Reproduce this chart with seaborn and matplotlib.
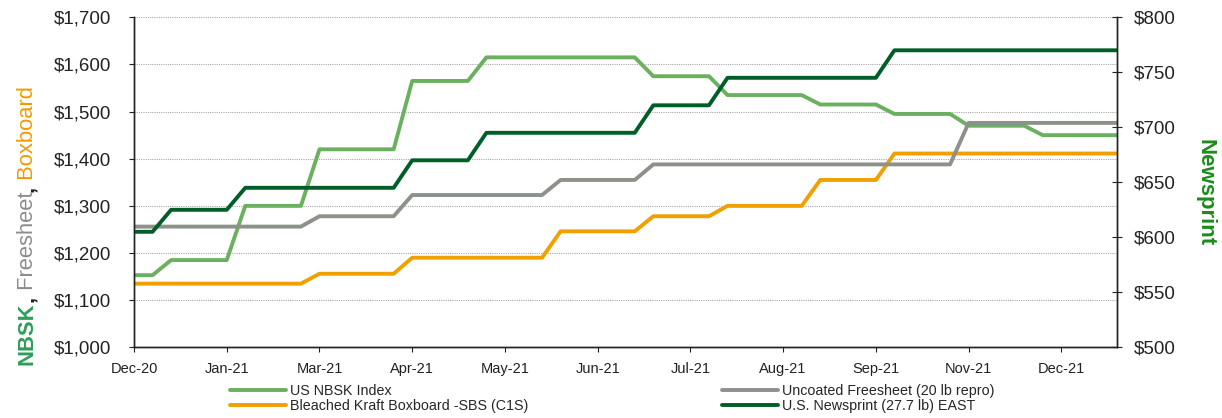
import numpy as np
import pandas as pd
import matplotlib.pyplot as plt
import matplotlib.ticker as ticker
import seaborn as sns

# ------------------------------------------------------------
# data: weekly prices, Dec-20 .. Dec-21 (54 points)
# ------------------------------------------------------------
TICK_LABELS = ["Dec-20", "Jan-21", "Mar-21", "Apr-21", "May-21", "Jun-21",
               "Jul-21", "Aug-21", "Sep-21", "Nov-21", "Dec-21"]

NBSK = [1153, 1153, 1185, 1185, 1185, 1185, 1300, 1300, 1300, 1300,
        1420, 1420, 1420, 1420, 1420, 1565, 1565, 1565, 1565, 1615,
        1615, 1615, 1615, 1615, 1615, 1615, 1615, 1615, 1575, 1575,
        1575, 1575, 1535, 1535, 1535, 1535, 1535, 1515, 1515, 1515,
        1515, 1495, 1495, 1495, 1495, 1470, 1470, 1470, 1470, 1450,
        1450, 1450, 1450, 1450]

FREESHEET = [1256, 1256, 1256, 1256, 1256, 1256, 1256, 1256, 1256, 1256,
             1278, 1278, 1278, 1278, 1278, 1323, 1323, 1323, 1323, 1323,
             1323, 1323, 1323, 1355, 1355, 1355, 1355, 1355, 1388, 1388,
             1388, 1388, 1388, 1388, 1388, 1388, 1388, 1388, 1388, 1388,
             1388, 1388, 1388, 1388, 1388, 1476, 1476, 1476, 1476, 1476,
             1476, 1476, 1476, 1476]

BOXBOARD = [1135, 1135, 1135, 1135, 1135, 1135, 1135, 1135, 1135, 1135,
            1156, 1156, 1156, 1156, 1156, 1190, 1190, 1190, 1190, 1190,
            1190, 1190, 1190, 1246, 1246, 1246, 1246, 1246, 1278, 1278,
            1278, 1278, 1300, 1300, 1300, 1300, 1300, 1355, 1355, 1355,
            1355, 1411, 1411, 1411, 1411, 1411, 1411, 1411, 1411, 1411,
            1411, 1411, 1411, 1411]

NEWSPRINT = [605, 605, 625, 625, 625, 625, 645, 645, 645, 645,
             645, 645, 645, 645, 645, 670, 670, 670, 670, 695,
             695, 695, 695, 695, 695, 695, 695, 695, 720, 720,
             720, 720, 745, 745, 745, 745, 745, 745, 745, 745,
             745, 770, 770, 770, 770, 770, 770, 770, 770, 770,
             770, 770, 770, 770]

C_NBSK = "#6BB05F"
C_FREE = "#8C918A"
C_BOX = "#F0A000"
C_NEWS = "#005F28"

W, H = 1222, 418
sns.set_style("white")
plt.rcParams.update({
    "font.family": ["Liberation Sans", "DejaVu Sans"],
    "axes.edgecolor": "#222222",
    "xtick.color": "#222222",
    "ytick.color": "#222222",
})

df = pd.DataFrame({"idx": np.arange(len(NBSK)), "nbsk": NBSK,
                   "free": FREESHEET, "box": BOXBOARD, "news": NEWSPRINT})

fig = plt.figure(figsize=(W / 100, H / 100), dpi=100)
ax = fig.add_axes([134 / W, 1 - 347.3 / H, (1117 - 134) / W, 330 / H])
ax2 = ax.twinx()

LW = 2.8
sns.lineplot(data=df, x="idx", y="nbsk", ax=ax, color=C_NBSK, lw=LW, label="US NBSK Index", legend=False)
sns.lineplot(data=df, x="idx", y="box", ax=ax, color=C_BOX, lw=LW, label="Bleached Kraft Boxboard -SBS (C1S)", legend=False)
sns.lineplot(data=df, x="idx", y="free", ax=ax, color=C_FREE, lw=LW, label="Uncoated Freesheet (20 lb repro)", legend=False)
sns.lineplot(data=df, x="idx", y="news", ax=ax2, color=C_NEWS, lw=LW, label="U.S. Newsprint (27.7 lb) EAST", legend=False)

# axes, ticks
ax.set_xlim(0, len(NBSK) - 1)
ax.set_ylim(1000, 1700)
ax2.set_ylim(500, 800)
ax.set_xticks(np.arange(0, 51, 5))
ax.set_xticklabels(TICK_LABELS)
ax.set_yticks(np.arange(1000, 1701, 100))
ax2.set_yticks(np.arange(500, 801, 50))
ax.yaxis.set_major_formatter(ticker.FuncFormatter(lambda v, p: f"${v:,.0f}"))
ax2.yaxis.set_major_formatter(ticker.FuncFormatter(lambda v, p: f"${v:,.0f}"))
ax.set_xlabel("")
ax.set_ylabel("")
ax2.set_ylabel("")

ax.tick_params(axis="x", direction="out", length=3.75, width=0.8, pad=6.5, labelsize=10.5, bottom=True)
ax.tick_params(axis="y", direction="out", length=3.75, width=0.8, pad=12.5, labelsize=13.5, left=True)
ax2.tick_params(axis="y", direction="inout", length=7.5, width=0.8, pad=8.7, labelsize=13.5, right=True)

ax.yaxis.grid(True, linestyle=(0, (1, 1)), color="#A8A8A8", linewidth=0.8)
ax.xaxis.grid(False)
for a in (ax, ax2):
    a.spines["top"].set_visible(False)
    for s in ("left", "right", "bottom"):
        a.spines[s].set_linewidth(1.0)
        a.spines[s].set_color("#222222")

# legends (two columns placed separately)
lines = {l.get_label(): l for l in ax.get_lines() + ax2.get_lines()}
leg_kw = dict(frameon=False, fontsize=10.3, handlelength=3.9, handletextpad=0.3,
              labelspacing=0.12, borderpad=0, borderaxespad=0, loc="center left")
lab1 = ["US NBSK Index", "Bleached Kraft Boxboard -SBS (C1S)"]
lab2 = ["Uncoated Freesheet (20 lb repro)", "U.S. Newsprint (27.7 lb) EAST"]
fig.legend([lines[k] for k in lab1], lab1, bbox_to_anchor=(230 / W, 1 - 398.5 / H), **leg_kw)
fig.legend([lines[k] for k in lab2], lab2, bbox_to_anchor=(722 / W, 1 - 398.5 / H), **leg_kw)

# multi-coloured left axis title, drawn piece by piece bottom-up
fig.canvas.draw()
renderer = fig.canvas.get_renderer()
pieces = [("NBSK", "#2E9E5A", "bold"), (",", "#222222", "bold"),
          (" Freesheet", "#8C8C8C", "normal"), (",", "#222222", "bold"),
          (" Boxboard", "#F29A00", "normal")]
y_pos = 1 - 365 / H
for txt, col, wt in pieces:
    t = fig.text(33 / W, y_pos, txt, color=col, fontsize=15.8, fontweight=wt,
                 rotation=90, rotation_mode="anchor", ha="left", va="baseline")
    bb = t.get_window_extent(renderer=renderer)
    y_pos += bb.height / H

fig.text(1205 / W, 1 - 193 / H, "Newsprint", color="#1B8C1B", fontsize=16,
         fontweight="bold", rotation=270, ha="center", va="center")

fig.savefig("out.png", dpi=100)
